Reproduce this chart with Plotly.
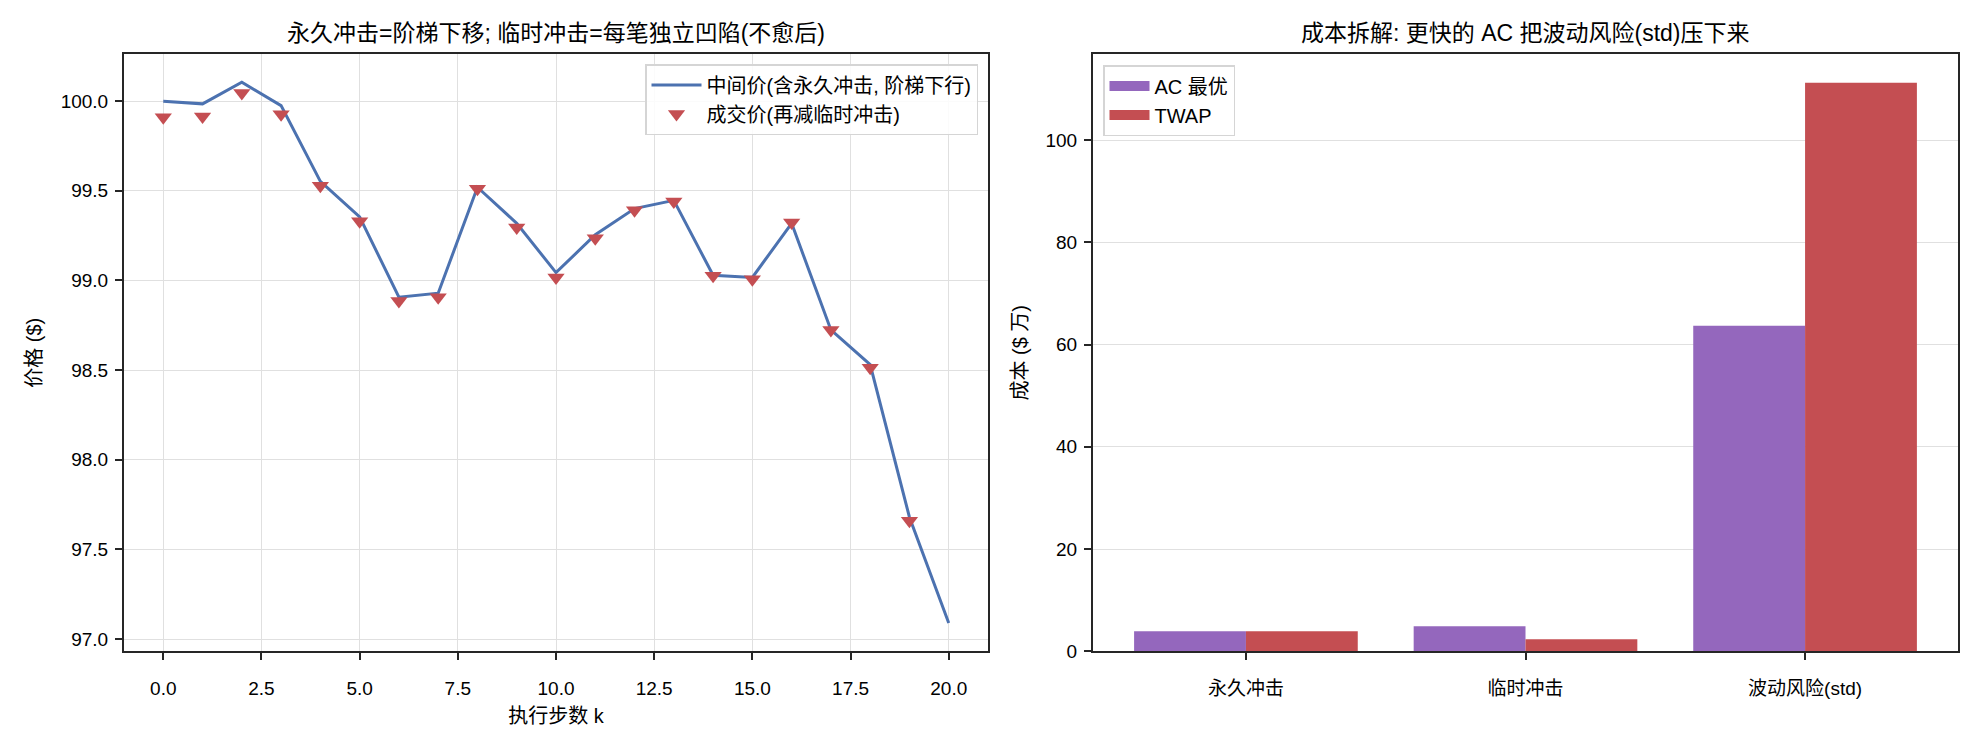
import plotly.graph_objects as go

# ---------- data ----------
steps = list(range(21))
mid_price = [100.00, 99.985, 100.106, 99.975, 99.553, 99.355, 98.907, 98.929, 99.520, 99.319,
             99.044, 99.255, 99.401, 99.447, 99.029, 99.017, 99.319, 98.724, 98.531, 97.68, 97.09]
trade_steps = list(range(20))
trade_price = [99.910, 99.914, 100.046, 99.927, 99.529, 99.331, 98.885, 98.907, 99.511, 99.295,
               99.016, 99.236, 99.392, 99.441, 99.026, 99.007, 99.324, 98.724, 98.513, 97.66]

cost_categories = ["永久冲击", "临时冲击", "波动风险(std)"]
cost_ac = [3.93, 4.90, 63.68]
cost_twap = [3.93, 2.38, 111.2]

left_title = "永久冲击=阶梯下移; 临时冲击=每笔独立凹陷(不愈后)"
right_title = "成本拆解: 更快的 AC 把波动风险(std)压下来"

# ---------- style ----------
FONT = "Liberation Sans, Arial, Noto Sans CJK SC, sans-serif"
BLUE = "#4C72B0"
RED = "#C44E52"
PURPLE = "#9467BD"
GRID = "#E0E0E0"
SPINE = "#262626"

W, H = 1980, 750
L1, R1 = 124 / W, 988 / W
L2, R2 = 1093 / W, 1958 / W
B, T = (H - 661) / H, (H - 55) / H

fig = go.Figure()

fig.add_trace(go.Scatter(x=steps, y=mid_price, mode="lines", name="中间价(含永久冲击, 阶梯下行)",
                         line=dict(color=BLUE, width=3), xaxis="x", yaxis="y", legend="legend"))
fig.add_trace(go.Scatter(x=trade_steps, y=trade_price, mode="markers", name="成交价(再减临时冲击)",
                         marker=dict(symbol="triangle-down", color=RED, size=15, line=dict(width=0)),
                         xaxis="x", yaxis="y", legend="legend"))

fig.add_trace(go.Bar(x=cost_categories, y=cost_ac, name="AC 最优", marker=dict(color=PURPLE, line=dict(width=0)),
                     xaxis="x2", yaxis="y2", showlegend=False))
fig.add_trace(go.Bar(x=cost_categories, y=cost_twap, name="TWAP", marker=dict(color=RED, line=dict(width=0)),
                     xaxis="x2", yaxis="y2", showlegend=False))
# legend swatches (rectangular patches like the reference)
fig.add_trace(go.Scatter(x=[None], y=[None], mode="lines", name="AC 最优",
                         line=dict(color=PURPLE, width=13), xaxis="x2", yaxis="y2", legend="legend2"))
fig.add_trace(go.Scatter(x=[None], y=[None], mode="lines", name="TWAP",
                         line=dict(color=RED, width=13), xaxis="x2", yaxis="y2", legend="legend2"))

axis_common = dict(showline=True, linecolor=SPINE, linewidth=2, mirror=True,
                   ticks="outside", ticklen=7, tickwidth=1.5, tickcolor=SPINE,
                   tickfont=dict(family=FONT, size=19, color="#000"), zeroline=False,
                   gridcolor=GRID, gridwidth=1.3)

fig.update_layout(
    width=W, height=H,
    margin=dict(l=0, r=0, t=0, b=0),
    paper_bgcolor="white", plot_bgcolor="white",
    font=dict(family=FONT, size=19, color="#000"),
    barmode="group", bargap=0.2, bargroupgap=0,
    xaxis=dict(domain=[L1, R1], range=[-1, 21], tickmode="array",
               tickvals=[0, 2.5, 5, 7.5, 10, 12.5, 15, 17.5, 20],
               ticktext=["0.0", "2.5", "5.0", "7.5", "10.0", "12.5", "15.0", "17.5", "20.0"],
               showgrid=True, anchor="y", ticklabelstandoff=12,
               title=dict(text="执行步数 k", font=dict(family=FONT, size=20), standoff=11),
               **axis_common),
    yaxis=dict(domain=[B, T], range=[96.932, 100.262], tickmode="array",
               tickvals=[97.0, 97.5, 98.0, 98.5, 99.0, 99.5, 100.0],
               ticktext=["97.0", "97.5", "98.0", "98.5", "99.0", "99.5", "100.0"],
               showgrid=True, anchor="x", ticklabelstandoff=3,
               title=dict(text="价格 ($)", font=dict(family=FONT, size=20), standoff=14),
               **axis_common),
    xaxis2=dict(domain=[L2, R2], range=[-0.547, 2.547], type="category", showgrid=False,
                anchor="y2", ticklabelstandoff=12, **axis_common),
    yaxis2=dict(domain=[B, T], range=[0, 116.8], tickmode="array",
                tickvals=[0, 20, 40, 60, 80, 100], showgrid=True, anchor="x2",
                layer="above traces", ticklabelstandoff=3,
                title=dict(text="成本 ($ 万)", font=dict(family=FONT, size=20), standoff=12),
                **axis_common),
    legend=dict(x=978 / W, y=(H - 65) / H, xanchor="right", yanchor="top",
                bgcolor="rgba(255,255,255,0.85)", bordercolor="#D5D5D5", borderwidth=1.5,
                font=dict(family=FONT, size=20), tracegroupgap=8, itemwidth=50,
                traceorder="normal"),
    legend2=dict(x=1103 / W, y=(H - 66) / H, xanchor="left", yanchor="top",
                 bgcolor="rgba(255,255,255,0.85)", bordercolor="#D5D5D5", borderwidth=1.5,
                 font=dict(family=FONT, size=20), tracegroupgap=8, itemwidth=40,
                 traceorder="normal"),
    annotations=[
        dict(text=left_title, x=(L1 + R1) / 2, y=T, xref="paper", yref="paper",
             xanchor="center", yanchor="bottom", yshift=6, showarrow=False,
             font=dict(family=FONT, size=23, color="#000")),
        dict(text=right_title, x=(L2 + R2) / 2, y=T, xref="paper", yref="paper",
             xanchor="center", yanchor="bottom", yshift=6, showarrow=False,
             font=dict(family=FONT, size=23, color="#000")),
    ],
)

fig.write_html("out.html")
